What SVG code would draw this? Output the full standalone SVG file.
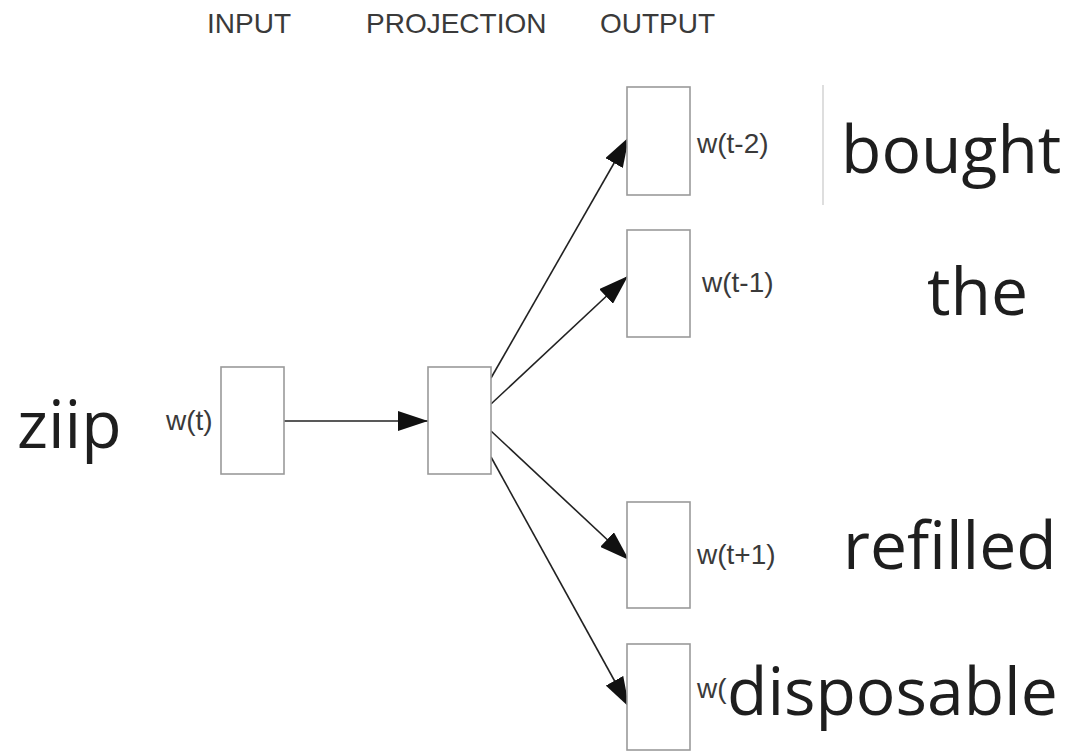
<svg xmlns="http://www.w3.org/2000/svg" width="1075" height="751" viewBox="0 0 1075 751">
  <style>
    .box { fill: #ffffff; stroke: #9a9a9a; stroke-width: 1.6; }
    .head { font-family: "Liberation Sans", Arial, sans-serif; font-size: 28px; fill: #3a3a3a; }
    .lbl { font-family: "Liberation Sans", Arial, sans-serif; font-size: 28px; fill: #3a3a3a; }
    .word { font-family: "Open Sans", "Noto Sans", sans-serif; font-size: 66px; fill: #1e1e1e; }
    .edge { fill: none; stroke: #222222; stroke-width: 1.6; marker-end: url(#arrow); }
  </style>
  <defs>
    <marker id="arrow" markerUnits="userSpaceOnUse" markerWidth="31" markerHeight="20" refX="30" refY="10" orient="auto">
      <path d="M0,0 L30,10 L0,20 z" fill="#111111"/>
    </marker>
  </defs>
  <rect width="1075" height="751" fill="#ffffff"/>

  <!-- column headings -->
  <g id="headings">
    <text class="head" x="207" y="33">INPUT</text>
    <text class="head" x="366" y="33">PROJECTION</text>
    <text class="head" x="600" y="33">OUTPUT</text>
  </g>

  <!-- connectors -->
  <g id="connectors">
    <line class="edge" x1="281" y1="421" x2="428" y2="421"/>
    <line class="edge" x1="491" y1="378" x2="629" y2="137"/>
    <line class="edge" x1="491" y1="404" x2="628" y2="276"/>
    <line class="edge" x1="491" y1="431" x2="629" y2="560"/>
    <line class="edge" x1="491" y1="457" x2="629" y2="707"/>
  </g>

  <!-- input word -->
  <g id="input">
    <text class="word" x="17" y="448">ziip</text>
    <rect class="box" x="221" y="367" width="63" height="107"/>
    <text class="lbl" x="166" y="430">w(t)</text>
  </g>

  <!-- projection layer -->
  <g id="projection">
    <rect class="box" x="428" y="367" width="63" height="107"/>
  </g>

  <!-- output words -->
  <g id="out-t-2">
    <rect class="box" x="627" y="87" width="63" height="108"/>
    <text class="lbl" x="697" y="153">w(t-2)</text>
    <line x1="823" y1="85" x2="823" y2="205" stroke="#c8c8c8" stroke-width="1.2"/>
    <text class="word" x="841" y="173">bought</text>
  </g>

  <g id="out-t-1">
    <rect class="box" x="627" y="230" width="63" height="107"/>
    <text class="lbl" x="702" y="292">w(t-1)</text>
    <text class="word" x="927" y="315">the</text>
  </g>

  <g id="out-t1">
    <rect class="box" x="627" y="502" width="63" height="106"/>
    <text class="lbl" x="697" y="564">w(t+1)</text>
    <text class="word" x="843" y="569">refilled</text>
  </g>

  <g id="out-t2">
    <rect class="box" x="627" y="644" width="63" height="106"/>
    <text class="lbl" x="697" y="698">w(</text>
    <text class="word" x="727" y="715">disposable</text>
  </g>
</svg>
